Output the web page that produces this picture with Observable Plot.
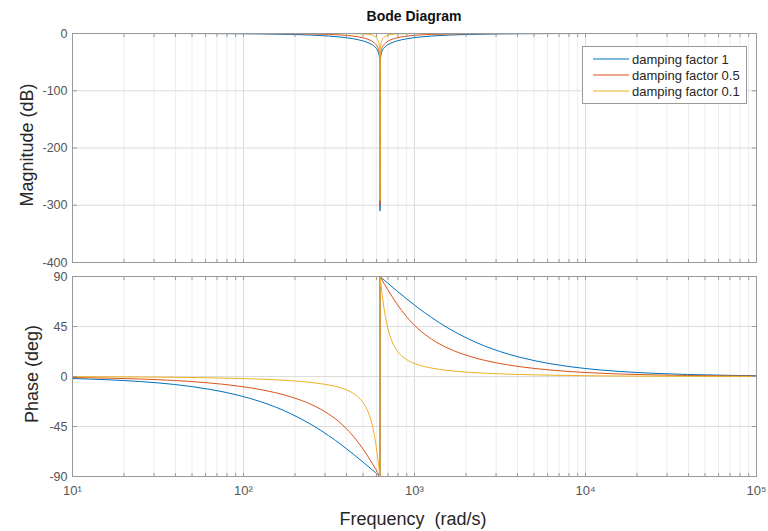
<!DOCTYPE html>
<html>
<head>
<meta charset="utf-8">
<script src="https://cdn.jsdelivr.net/npm/d3@7"></script>
<script src="https://cdn.jsdelivr.net/npm/@observablehq/plot@0.6"></script>
<style>
  html, body { margin: 0; padding: 0; background: #fff; }
  #root { position: relative; width: 768px; height: 531px; font-family: "Liberation Sans", Arial, sans-serif; overflow: hidden; }
  #root svg { position: absolute; left: 0; overflow: visible; }
  .lbl { position: absolute; color: #262626; white-space: pre; }
</style>
</head>
<body>
<div id="root"></div>
<script>
// ---- data ----
const freq = [10, 15.7, 25.1, 39.6, 62.8, 94.2, 125.7, 188.5, 251.3, 314.2, 377, 439.8, 502.6, 534.1, 565.5, 590.6, 609.5, 618.9, 625.2, 627.7,
  628.3,
  628.9, 631.5, 637.9, 647.7, 668.4, 698.1, 739.2, 785.4, 897.6, 1047.2, 1256.6, 1570.8, 2094.3, 3141.5, 4188.7, 6283, 9973, 15708, 25132, 39516, 62830, 100000];

const magDamping1 = [-0.004, -0.011, -0.028, -0.069, -0.174, -0.391, -0.696, -1.568, -2.804, -4.437, -6.548, -9.312, -13.17, -15.86, -19.58, -24.18, -30.33, -36.41, -46.0, -60.0,
  -310,
  -60.0, -46.0, -36.41, -30.33, -24.18, -19.58, -15.86, -13.17, -9.312, -6.548, -4.437, -2.804, -1.568, -0.696, -0.391, -0.174, -0.069, -0.028, -0.011, -0.004, -0.002, -0.001];
const magDamping05 = [-0.001, -0.003, -0.007, -0.017, -0.044, -0.101, -0.185, -0.448, -0.888, -1.597, -2.739, -4.600, -7.737, -10.16, -13.70, -18.21, -24.32, -30.40, -39.98, -53.98,
  -300,
  -53.98, -39.98, -30.40, -24.32, -18.21, -13.70, -10.16, -7.737, -4.600, -2.739, -1.597, -0.888, -0.448, -0.185, -0.101, -0.044, -0.017, -0.007, -0.003, -0.001, 0, 0];
const magDamping01 = [0, 0, 0, -0.001, -0.002, -0.004, -0.008, -0.019, -0.039, -0.077, -0.151, -0.316, -0.783, -1.384, -2.782, -5.573, -10.71, -16.51, -26.01, -40.0,
  -292,
  -40.0, -26.01, -16.51, -10.71, -5.573, -2.782, -1.384, -0.783, -0.316, -0.151, -0.077, -0.039, -0.019, -0.008, -0.004, -0.002, -0.001, 0, 0, 0, 0, 0];

const phaseDamping1 = [-1.82, -2.86, -4.58, -7.20, -11.42, -17.06, -22.62, -33.40, -43.60, -53.13, -61.93, -70.00, -77.32, -80.73, -83.97, -86.46, -88.26, -89.13, -89.71, -89.94,
  -90,
  89.94, 89.71, 89.13, 88.26, 86.46, 83.97, 80.73, 77.32, 70.00, 61.93, 53.13, 43.60, 33.40, 22.62, 17.06, 11.42, 7.20, 4.58, 2.86, 1.82, 1.15, 0.72];
const phaseDamping05 = [-0.91, -1.43, -2.29, -3.62, -5.77, -8.72, -11.77, -18.24, -25.46, -33.69, -43.15, -53.92, -65.77, -71.92, -78.08, -82.94, -86.52, -88.27, -89.43, -89.89,
  -90,
  89.89, 89.43, 88.27, 86.52, 82.94, 78.08, 71.92, 65.77, 53.92, 43.15, 33.69, 25.46, 18.24, 11.77, 8.72, 5.77, 3.62, 2.29, 1.43, 0.91, 0.57, 0.36];
const phaseDamping01 = [-0.18, -0.29, -0.46, -0.72, -1.16, -1.76, -2.39, -3.77, -5.44, -7.59, -10.62, -15.35, -23.96, -31.49, -43.45, -58.23, -73.06, -81.40, -87.13, -89.43,
  -90,
  89.43, 87.13, 81.40, 73.06, 58.23, 43.45, 31.49, 23.96, 15.35, 10.62, 7.59, 5.44, 3.77, 2.39, 1.76, 1.16, 0.72, 0.46, 0.29, 0.18, 0.11, 0.07];

const seriesNames = ["damping factor 1", "damping factor 0.5", "damping factor 0.1"];
const seriesColors = ["#0072BD", "#D95319", "#EDB120"];

const xMajorTicks = [10, 100, 1000, 10000, 100000];
const xTickLabels = ["10\u00B9", "10\u00B2", "10\u00B3", "10\u2074", "10\u2075"];
const magTicks = [0, -100, -200, -300, -400];
const phaseTicks = [90, 45, 0, -45, -90];

const titleText = "Bode Diagram";
const xLabel = "Frequency  (rad/s)";
const magLabel = "Magnitude (dB)";
const phaseLabel = "Phase (deg)";

// ---- build ----
const mags = [magDamping1, magDamping05, magDamping01];
const phases = [phaseDamping1, phaseDamping05, phaseDamping01];
const rows = [];
seriesNames.forEach((name, k) => {
  freq.forEach((f, i) => rows.push({f, mag: mags[k][i], phase: phases[k][i], series: name}));
});

const xMinorTicks = [];
for (let d = 10; d < 100000; d *= 10) for (let m = 2; m <= 9; m++) xMinorTicks.push(d * m);
const xAllTicks = xMajorTicks.concat(xMinorTicks);

const W = 768;
const xOpts = {type: "log", domain: [10, 100000]};
const colorOpts = {domain: seriesNames, range: seriesColors};
const fontFamily = '"Liberation Sans", Arial, sans-serif';
const axisGray = "#9a9a9a";

function panel({height, marginTop, marginBottom, yKey, yDomain, yTicks, showX}) {
  const marks = [
    Plot.ruleX(xMinorTicks, {stroke: "#ededed", strokeWidth: 1}),
    Plot.ruleX(xMajorTicks, {stroke: "#dcdcdc", strokeWidth: 1}),
    Plot.ruleY(yTicks, {stroke: "#dcdcdc", strokeWidth: 1}),
    Plot.line(rows, {x: "f", y: yKey, z: "series", stroke: "series", strokeWidth: 1, curve: "monotone-x"}),
    Plot.frame({stroke: axisGray, strokeWidth: 1}),
    Plot.axisX({anchor: "bottom", ticks: xAllTicks, tickSize: -3, tickFormat: () => "", stroke: axisGray, label: null}),
    Plot.axisX({anchor: "top", ticks: xAllTicks, tickSize: -3, tickFormat: () => "", stroke: axisGray, label: null}),
    Plot.axisY({anchor: "left", ticks: yTicks, tickSize: -5, tickPadding: 10, tickFormat: d => String(d), stroke: axisGray, fill: "#555", fontSize: 12.5, label: null}),
    Plot.axisY({anchor: "right", ticks: yTicks, tickSize: -5, tickFormat: () => "", stroke: axisGray, label: null})
  ];
  if (showX) {
    marks.push(Plot.axisX({anchor: "bottom", ticks: xMajorTicks, tickSize: 0, tickPadding: 9,
      tickFormat: d => xTickLabels[xMajorTicks.indexOf(d)], fill: "#555", fontSize: 13, label: null}));
  }
  return Plot.plot({
    width: W, height, marginLeft: 72, marginRight: 12, marginTop, marginBottom,
    style: {fontFamily, background: "transparent", overflow: "visible"},
    x: {...xOpts, axis: null, label: null},
    y: {domain: yDomain, axis: null, label: null},
    color: colorOpts,
    marks
  });
}

const root = document.getElementById("root");
const magPanel = panel({height: 270, marginTop: 33, marginBottom: 8, yKey: "mag", yDomain: [-400, 0], yTicks: magTicks, showX: false});
magPanel.style.top = "0px";
root.appendChild(magPanel);
const phasePanel = panel({height: 261, marginTop: 6, marginBottom: 55, yKey: "phase", yDomain: [-90, 90], yTicks: phaseTicks, showX: true});
phasePanel.style.top = "270px";
root.appendChild(phasePanel);

function label(text, css) {
  const d = document.createElement("div");
  d.className = "lbl";
  d.textContent = text;
  Object.assign(d.style, css);
  root.appendChild(d);
  return d;
}
label(titleText, {left: "414px", top: "8px", transform: "translateX(-50%)", fontWeight: "bold", fontSize: "14px", color: "#111"});
label(xLabel, {left: "413px", top: "509px", transform: "translateX(-50%)", fontSize: "18px"});
label(magLabel, {left: "27px", top: "145px", transform: "translate(-50%,-50%) rotate(-90deg)", fontSize: "18px"});
label(phaseLabel, {left: "32px", top: "374px", transform: "translate(-50%,-50%) rotate(-90deg)", fontSize: "18px"});

// legend
const leg = document.createElement("div");
Object.assign(leg.style, {position: "absolute", left: "582px", top: "46px", width: "163px", height: "56px",
  border: "1px solid " + axisGray, background: "#fff"});
seriesNames.forEach((name, k) => {
  const row = document.createElement("div");
  Object.assign(row.style, {position: "absolute", left: "0px", top: (4 + k * 16) + "px", height: "16px", display: "flex", alignItems: "center"});
  const sw = document.createElementNS("http://www.w3.org/2000/svg", "svg");
  sw.setAttribute("width", "36"); sw.setAttribute("height", "16");
  sw.style.position = "static"; sw.style.marginLeft = "10px";
  const ln = document.createElementNS("http://www.w3.org/2000/svg", "line");
  ln.setAttribute("x1", "0"); ln.setAttribute("x2", "36"); ln.setAttribute("y1", "8"); ln.setAttribute("y2", "8");
  ln.setAttribute("stroke", seriesColors[k]); ln.setAttribute("stroke-width", "1");
  sw.appendChild(ln);
  const tx = document.createElement("span");
  tx.textContent = name;
  Object.assign(tx.style, {fontSize: "13px", color: "#262626", marginLeft: "3px"});
  row.appendChild(sw); row.appendChild(tx);
  leg.appendChild(row);
});
root.appendChild(leg);
</script>
</body>
</html>
